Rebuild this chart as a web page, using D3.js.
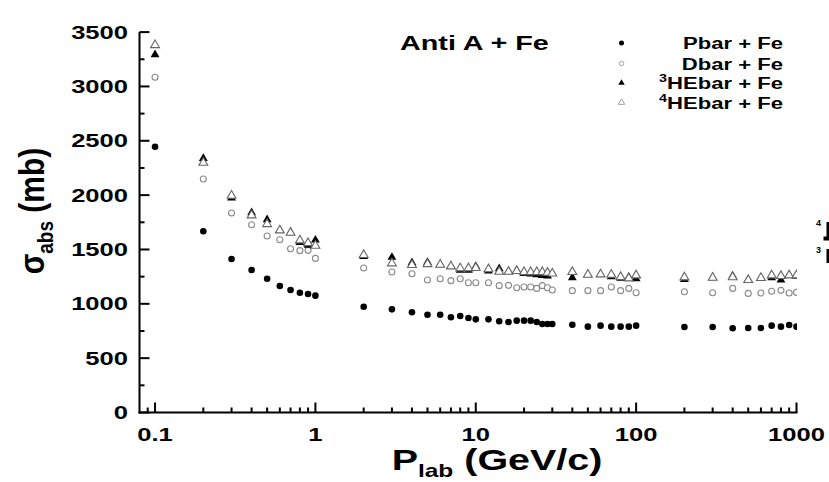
<!DOCTYPE html>
<html>
<head>
<meta charset="utf-8">
<script src="https://cdn.jsdelivr.net/npm/d3@7"></script>
<style>
  html, body { margin: 0; padding: 0; background: #fff; }
  svg { display: block; }
  text { font-family: "Liberation Sans", Arial, sans-serif; font-weight: bold; fill: #000; }
</style>
</head>
<body>
<svg id="chart" width="829" height="482"></svg>
<script>
// Laboratory momenta (GeV/c)
const momenta = [0.1,0.2,0.3,0.4,0.5,0.6,0.7,0.8,0.9,1,
  2,3,4,5,6,7,8,9,10,
  12,14,16,18,20,22,24,26,28,30,
  40,50,60,70,80,90,100,
  200,300,400,500,600,700,800,900,1000];

// Absorption cross sections (mb)
const pbarFe = [2445,1667,1412,1311,1231,1164,1127,1102,1090,1075,
  973,949,922,900,900,876,888,869,857,
  857,839,832,845,845,845,832,814,814,814,
  808,790,799,790,790,790,799,
  787,787,775,778,778,799,790,805,790];
const dbarFe = [3084,2148,1835,1728,1624,1590,1507,1489,1492,1418,
  1329,1293,1277,1219,1231,1213,1231,1194,1194,
  1194,1167,1170,1148,1155,1155,1142,1167,1148,1127,
  1121,1121,1121,1155,1121,1142,1102,
  1111,1102,1142,1096,1099,1115,1124,1099,1105];
const he3barFe = [3292,2338,1975,1838,1774,1676,1654,1565,1540,1587,
  1435,1428,1378,1382,1360,1345,1310,1310,1345,
  1302,1323,1295,1305,1280,1274,1268,1262,1256,1280,
  1241,1268,1271,1250,1235,1245,1231,
  1225,1241,1256,1219,1238,1240,1219,1262,1255];
const he4barFe = [3381,2298,1995,1814,1734,1676,1654,1584,1559,1535,
  1449,1373,1357,1366,1360,1345,1327,1327,1330,
  1318,1295,1295,1302,1292,1292,1292,1292,1286,1280,
  1293,1268,1271,1268,1247,1235,1262,
  1244,1241,1245,1219,1238,1262,1256,1262,1262];

const yTickValues = [0,500,1000,1500,2000,2500,3000,3500];
const xTickValues = [0.1,1,10,100,1000];
const xTickLabels = ["0.1","1","10","100","1000"];

const seriesNames = ["Pbar + Fe","Dbar + Fe","HEbar + Fe","HEbar + Fe"];
const seriesMass = ["","","3","4"];
const panelTitle = "Anti A + Fe";

const svg = d3.select("#chart");

const x = d3.scaleLog().domain([0.08, 1000]).range([139.5, 796.5]);
const y = d3.scaleLinear().domain([0, 3500]).range([412.5, 32.1]);

// helper: upright text, stretched horizontally by sx
function stretched(parent, px, py, size, sx, anchor) {
  const g = parent.append("g").attr("transform", `translate(${px},${py}) scale(${sx},1)`);
  return g.append("text").attr("font-size", size).attr("text-anchor", anchor || "start");
}

// ---- axes ----
const axisG = svg.append("g");
// y axis line + ticks (inward)
axisG.append("line").attr("x1", x.range()[0]).attr("x2", x.range()[0])
  .attr("y1", y(0) + 1).attr("y2", y(3500)).attr("stroke", "#000").attr("stroke-width", 2);
d3.range(0, 3501, 250).forEach(v => {
  const major = v % 500 === 0;
  axisG.append("line").attr("x1", x.range()[0]).attr("x2", x.range()[0] + (major ? 10 : 5))
    .attr("y1", y(v)).attr("y2", y(v)).attr("stroke", "#000").attr("stroke-width", 2);
});
yTickValues.forEach(v => {
  stretched(axisG, 128, y(v) + 6.5, 18, 1.42, "end").text(v);
});

// x axis line + ticks (inward)
axisG.append("line").attr("x1", x.range()[0] - 1).attr("x2", x(1000) + 1)
  .attr("y1", y(0)).attr("y2", y(0)).attr("stroke", "#000").attr("stroke-width", 2);
const minorX = [0.09];
[0.1, 1, 10, 100].forEach(d => { for (let k = 2; k <= 9; k++) minorX.push(d * k); });
minorX.forEach(v => {
  axisG.append("line").attr("x1", x(v)).attr("x2", x(v))
    .attr("y1", y(0)).attr("y2", y(0) - 5).attr("stroke", "#000").attr("stroke-width", 2);
});
xTickValues.forEach((v, i) => {
  axisG.append("line").attr("x1", x(v)).attr("x2", x(v))
    .attr("y1", y(0)).attr("y2", y(0) - 10).attr("stroke", "#000").attr("stroke-width", 2);
  stretched(axisG, x(v), 441, 18, 1.42, "middle").text(xTickLabels[i]);
});

// axis titles
const xt = stretched(svg, 497, 470, 29, 1.36, "middle");
xt.append("tspan").text("P");
xt.append("tspan").attr("font-size", 18).attr("dy", 7).text("lab");
xt.append("tspan").attr("dy", -7).text(" (GeV/c)");

const yt = svg.append("text").attr("font-size", 30).attr("text-anchor", "middle")
  .attr("transform", "translate(44,211) rotate(-90) scale(1,1.15)");
yt.append("tspan").text("σ");
yt.append("tspan").attr("font-size", 19).attr("dy", 8).text("abs");
yt.append("tspan").attr("dy", -8).text(" (mb)");

// ---- data marks ----
svg.append("clipPath").attr("id", "plotClip").append("rect")
  .attr("x", 120).attr("y", 0).attr("width", x(1000) + 0.5 - 120).attr("height", 420);
const plot = svg.append("g").attr("clip-path", "url(#plotClip)");

const tri = d3.symbol().type(d3.symbolTriangle);
const rows = momenta.map((m, i) => ({m, i}));

plot.append("g").selectAll("circle").data(rows).join("circle")
  .attr("cx", d => x(d.m)).attr("cy", d => y(pbarFe[d.i])).attr("r", 3.3).attr("fill", "#000");
plot.append("g").selectAll("circle").data(rows).join("circle")
  .attr("cx", d => x(d.m)).attr("cy", d => y(dbarFe[d.i])).attr("r", 3)
  .attr("fill", "#fff").attr("stroke", "#8a8a8a").attr("stroke-width", 1.1);
plot.append("g").selectAll("path").data(rows).join("path")
  .attr("d", tri.size(34)).attr("transform", d => `translate(${x(d.m)},${y(he3barFe[d.i])})`)
  .attr("fill", "#000");
plot.append("g").selectAll("path").data(rows).join("path")
  .attr("d", tri.size(34)).attr("transform", d => `translate(${x(d.m)},${y(he4barFe[d.i])})`)
  .attr("fill", "#fff").attr("stroke", "#666").attr("stroke-width", 1.1);

// ---- title and legend ----
stretched(svg, 400, 50, 21, 1.37, "start").text(panelTitle);

const legY = [43, 63.5, 83, 102.5];
const lg = svg.append("g");
lg.append("circle").attr("cx", 621.5).attr("cy", legY[0]).attr("r", 2.5).attr("fill", "#000");
lg.append("circle").attr("cx", 621.5).attr("cy", legY[1]).attr("r", 2.2)
  .attr("fill", "#fff").attr("stroke", "#999").attr("stroke-width", 0.9);
lg.append("path").attr("d", tri.size(18)).attr("transform", `translate(621.5,${legY[2]})`).attr("fill", "#000");
lg.append("path").attr("d", tri.size(18)).attr("transform", `translate(621.5,${legY[3]})`)
  .attr("fill", "#fff").attr("stroke", "#999").attr("stroke-width", 0.9);
seriesNames.forEach((name, i) => {
  const t = stretched(lg, 783, legY[i] + 6, 17, 1.3, "end");
  if (seriesMass[i]) {
    t.append("tspan").attr("font-size", 11).attr("dy", -7).text(seriesMass[i]);
    t.append("tspan").attr("dy", 7).text(name);
  } else {
    t.text(name);
  }
});

// partial legend of the adjacent panel, cut by the page edge
const edge = svg.append("g");
edge.append("text").attr("x", 816).attr("y", 226).attr("font-size", 9).text("4");
edge.append("text").attr("x", 816).attr("y", 253).attr("font-size", 9).text("3");
edge.append("rect").attr("x", 826.5).attr("y", 222).attr("width", 3).attr("height", 16).attr("fill", "#000");
edge.append("rect").attr("x", 823.5).attr("y", 236.5).attr("width", 6).attr("height", 4).attr("fill", "#000");
edge.append("rect").attr("x", 826.5).attr("y", 249).attr("width", 3).attr("height", 14).attr("fill", "#000");
</script>
</body>
</html>
